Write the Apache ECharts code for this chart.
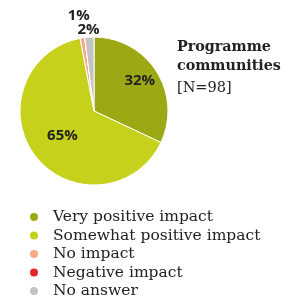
<!DOCTYPE html>
<html><head><meta charset="utf-8">
<script src="https://cdn.jsdelivr.net/npm/echarts@6/dist/echarts.min.js"></script>
<style>html,body{margin:0;padding:0;background:#fff}#c{width:288px;height:300px}</style>
</head><body><div id="c"></div>
<script>
var categories = ['Very positive impact','Somewhat positive impact','No impact','Negative impact','No answer'];
var values = [32, 65, 1, 0, 2];
var colors = ['#9ca814','#c5d11a','#f8a889','#e0262c','#c3c3c3'];

var chart = echarts.init(document.getElementById('c'), null, {renderer:'canvas'});
var data = categories.map(function(n,i){
  var d = {name:n, value:values[i], itemStyle:{color:colors[i]}};
  if (i === 0) d.label = {offset:[12,-9]};
  if (i === 2) d.label = {offset:[-9,-56]};
  if (i === 4) d.label = {offset:[-3,-41]};
  if (i === 3) d.label = {show:false};
  return d;
});
chart.setOption({
  animation:false,
  title:{
    text:'Programme\ncommunities', subtext:'[N=98]',
    left:172, top:33, itemGap:3,
    textStyle:{fontFamily:'DejaVu Serif', fontSize:14.3, fontWeight:'bold', color:'#222', lineHeight:19},
    subtextStyle:{fontFamily:'DejaVu Serif', fontSize:14.5, color:'#222', lineHeight:19}
  },
  legend:{
    orient:'vertical', left:28, top:209, padding:0, height:95, itemGap:2.5, icon:'circle', itemWidth:10, itemHeight:10,
    textStyle:{fontFamily:'DejaVu Serif', fontSize:15.5, color:'#222', lineHeight:16, padding:[0,0,0,9]},
    data:categories
  },
  series:[{
    type:'pie', center:[94,111], radius:[0,74], startAngle:90, clockwise:true,
    avoidLabelOverlap:false, minShowLabelAngle:0,
    labelLayout:{hideOverlap:false},
    itemStyle:{borderColor:'#fff', borderWidth:1},
    label:{show:true, position:'inside', formatter:'{d}%', fontFamily:'Open Sans', fontWeight:'bold', fontSize:15, color:'#222'},
    labelLine:{show:false},
    data:data
  }]
});
</script></body></html>
